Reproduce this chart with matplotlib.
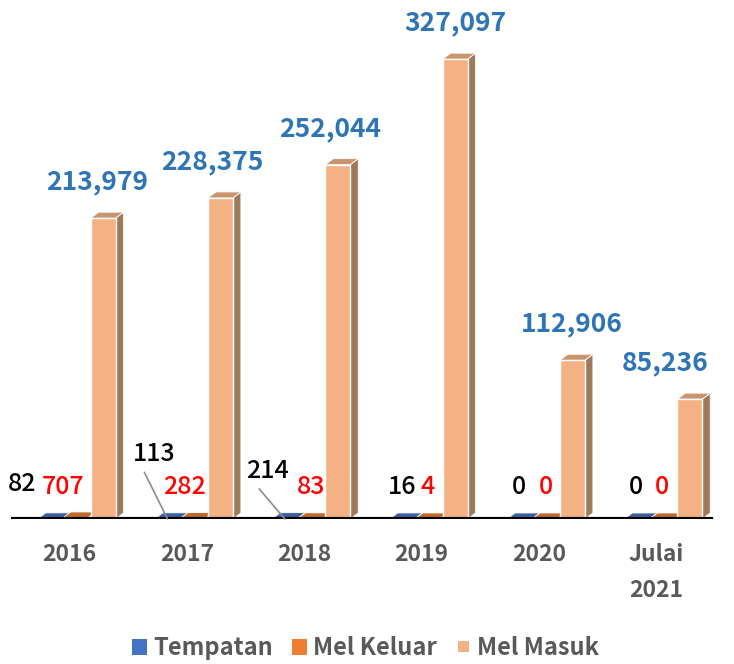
import matplotlib
matplotlib.use("Agg")
import matplotlib.pyplot as plt
from matplotlib.patches import Polygon, Patch, Rectangle
from matplotlib.legend_handler import HandlerPatch
import numpy as np

categories = ["2016", "2017", "2018", "2019", "2020", "Julai\n2021"]
tempatan = [82, 113, 214, 16, 0, 0]
mel_keluar = [707, 282, 83, 4, 0, 0]
mel_masuk = [213979, 228375, 252044, 327097, 112906, 85236]
series_names = ["Tempatan", "Mel Keluar", "Mel Masuk"]

# styling / layout (not data)
FONT = ["Noto Sans CJK JP", "DejaVu Sans"]
front_cols = ["#4472C4", "#ED7D31", "#F4B183"]
side_cols = ["#2F4F8A", "#A0521F", "#A0785A"]
top_cols = ["#3E5F9F", "#C0692F", "#C9946E"]
label_cols = ["black", "red", "#2E75B6"]
offsets = [-0.166, 0.047, 0.285]   # bar center offsets (category units)
bar_w = 0.213
depth_dx = 0.068                  # category units
depth_dy = 4300                   # value units

# label offsets in pixels (dx, dy)
temp_lab_dx = [-28, -13, -17, 0, -1, -1]
temp_lab_dy = [35, 65, 48, 32, 32, 32]
kel_lab_dx = [-12, -8, 1, 0, 1, 0]
masuk_lab_dx = [-6, -8, -8, 0, -1, -25]

W, H = 734, 664
fig = plt.figure(figsize=(W / 100, H / 100), dpi=100)
ax = fig.add_axes([11 / W, (H - 519) / H, 704 / W, 492 / H])
ax.set_xlim(-0.5, 5.5)
ax.set_ylim(0, 350000)
for s in ax.spines.values():
    s.set_visible(False)
ax.set_yticks([])

x = np.arange(len(categories))
all_series = [tempatan, mel_keluar, mel_masuk]

for si, vals in enumerate(all_series):
    xs = x + offsets[si]
    ax.bar(xs, vals, width=bar_w, color=front_cols[si],
           edgecolor="white" if si == 2 else front_cols[si],
           linewidth=1.0 if si == 2 else 0.3, zorder=3)
    for xc, v in zip(xs, vals):
        l, r = xc - bar_w / 2, xc + bar_w / 2
        side = Polygon([(r, 0), (r + depth_dx, depth_dy), (r + depth_dx, v + depth_dy), (r, v)],
                       closed=True, facecolor=side_cols[si], edgecolor="white",
                       linewidth=0.6, zorder=2)
        top = Polygon([(l, v), (r, v), (r + depth_dx, v + depth_dy), (l + depth_dx, v + depth_dy)],
                      closed=True, facecolor=top_cols[si], edgecolor="white",
                      linewidth=0.6, zorder=2.5)
        ax.add_patch(side)
        ax.add_patch(top)

ax.axhline(0, color="black", lw=3, zorder=4, xmin=0.0, xmax=0.995)

# labels
for i in range(len(categories)):
    xb = x[i] + offsets[0]
    kw = {}
    if temp_lab_dy[i] > 40:
        kw = dict(arrowprops=dict(arrowstyle="-", color="#8C8C8C", lw=1.2,
                                  relpos=(0.2, 0.0), shrinkA=2, shrinkB=0))
    ax.annotate(str(tempatan[i]), xy=(xb, 0), xytext=(temp_lab_dx[i], temp_lab_dy[i]),
                textcoords="offset pixels", ha="center", va="center",
                fontsize=18, fontweight="medium", color=label_cols[0], family=FONT, zorder=6, **kw)
    xk = x[i] + offsets[1]
    ax.annotate(str(mel_keluar[i]), xy=(xk, 0), xytext=(kel_lab_dx[i], 32),
                textcoords="offset pixels", ha="center", va="center",
                fontsize=18, fontweight="medium", color=label_cols[1], family=FONT, zorder=6)
    xm = x[i] + offsets[2]
    ax.annotate(f"{mel_masuk[i]:,}", xy=(xm, mel_masuk[i]), xytext=(masuk_lab_dx[i], 36),
                textcoords="offset pixels", ha="center", va="center",
                fontsize=19, fontweight="bold", color=label_cols[2],
                family=FONT, zorder=6)

ax.set_xticks(x)
ax.set_xticklabels(categories, fontsize=16.5, fontweight="bold", color="#595959",
                   family=FONT, linespacing=1.75, va="top")
ax.tick_params(axis="x", length=0, pad=17)


def small_square(legend, orig_handle, xdescent, ydescent, width, height, fontsize):
    s = 0.68
    return Rectangle((-xdescent + width * (1 - s) / 2, -ydescent + height * (1 - s) / 2),
                     width * s, height * s)


handles = [Patch(facecolor=front_cols[i], edgecolor="none") for i in range(3)]
leg = fig.legend(handles, series_names, loc="lower center", ncol=3,
                 bbox_to_anchor=(0.498, -0.026), frameon=False,
                 prop=dict(family=FONT, weight="bold", size=17),
                 handlelength=0.65, handleheight=0.65, handletextpad=0.25,
                 columnspacing=0.8,
                 handler_map={handles[2]: HandlerPatch(patch_func=small_square)})
for t in leg.get_texts():
    t.set_color("#595959")

fig.savefig("out.png", dpi=100)
